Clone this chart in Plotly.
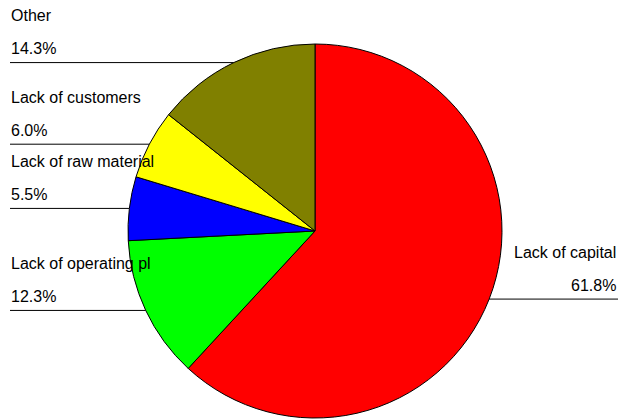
import numpy as np
import plotly.graph_objects as go

# Reasons and their shares (percent), listed clockwise from 12 o'clock
labels = ["Lack of capital", "Lack of operating pl", "Lack of raw material",
          "Lack of customers", "Other"]
shares = [61.8, 12.3, 5.5, 6.0, 14.3]
colors = ["#FF0000", "#00FF00", "#0000FF", "#FFFF00", "#808000"]

W, H = 618, 419
cx, cy, R = 315, 231, 187  # pie centre and radius in pixels

fig = go.Figure(go.Pie(
    labels=labels,
    values=shares,
    sort=False,
    direction="clockwise",
    rotation=0,
    textinfo="none",
    hoverinfo="label+value",
    marker=dict(colors=colors, line=dict(color="black", width=1)),
    domain=dict(x=[(cx - R) / W, (cx + R) / W],
                y=[(H - cy - R) / H, (H - cy + R) / H]),
    showlegend=False,
))

# Leader lines run horizontally from the rim (at each slice's mid-angle)
# to the chart edge, with the name and percentage stacked above.
vals = np.array(shares, dtype=float)
frac = vals / vals.sum()
mid = 2 * np.pi * (np.cumsum(frac) - frac / 2)

shapes, annotations = [], []
font = dict(family="Liberation Sans, Arial, sans-serif", size=16, color="black")
for name, pct, th in zip(labels, shares, mid):
    rx = cx + R * np.sin(th)
    ry = cy - R * np.cos(th)
    left = np.sin(th) < 0
    x0, x1 = (10, rx) if left else (rx, W)
    shapes.append(dict(type="line", xref="paper", yref="paper",
                       x0=x0 / W, x1=x1 / W, y0=(H - ry) / H, y1=(H - ry) / H,
                       line=dict(color="black", width=1)))
    tx = 9 / W if left else 618 / W
    anchor = "left" if left else "right"
    for text, dy in ((name, 47), (f"{pct:.1f}%", 14)):
        annotations.append(dict(xref="paper", yref="paper", x=tx,
                                y=(H - (ry - dy)) / H, text=text,
                                showarrow=False, xanchor=anchor,
                                yanchor="middle", font=font))

fig.update_layout(
    width=W, height=H,
    margin=dict(l=0, r=0, t=0, b=0),
    paper_bgcolor="white",
    plot_bgcolor="white",
    shapes=shapes,
    annotations=annotations,
)

fig.write_html("out.html")
